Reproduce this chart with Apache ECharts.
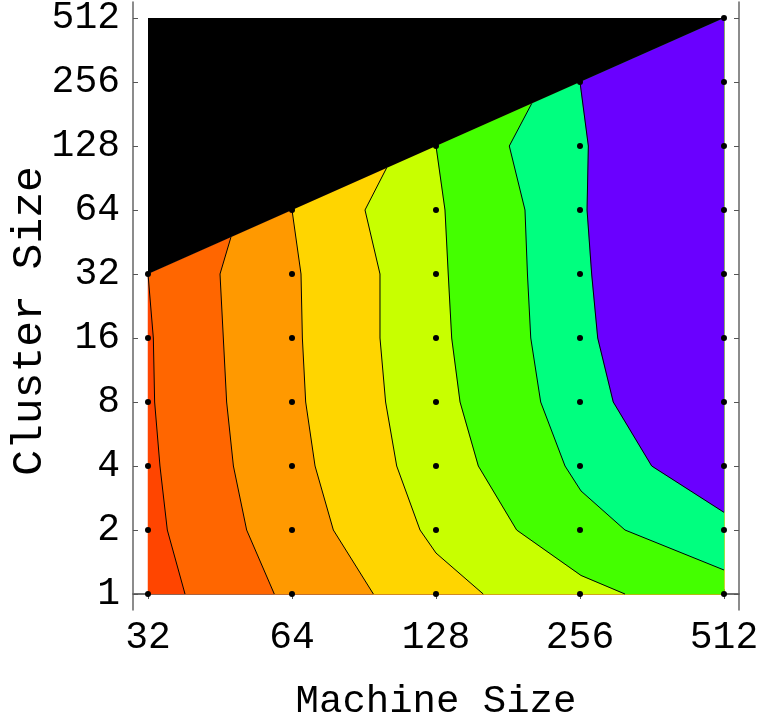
<!DOCTYPE html>
<html>
<head>
<meta charset="utf-8">
<script src="https://cdn.jsdelivr.net/npm/echarts@6/dist/echarts.min.js"></script>
<style>
html,body{margin:0;padding:0;background:#fff;}
#chart{width:758px;height:721px;}
</style>
</head>
<body>
<div id="chart"></div>
<script>
// Tick values (sizes)
const machineSizes = [32, 64, 128, 256, 512];
const clusterSizes = [1, 2, 4, 8, 16, 32, 64, 128, 256, 512];

// Contour boundary lines, as [log2(machine size), log2(cluster size)]
const contour1 = [[5.257,0],[5.134,1],[5.083,2],[5.046,3],[5.037,4],[5.0,5]];
const contour2 = [[5.877,0],[5.685,1],[5.593,2],[5.546,3],[5.523,4],[5.5,5],[5.576,5.576]];
const contour3 = [[6.565,0],[6.287,1],[6.16,2],[6.095,3],[6.072,4],[6.0625,5],[6,6]];
const contour4 = [[7.328,0],[7.0,0.64],[6.889,1],[6.727,2],[6.65,3],[6.611,4],[6.611,5],[6.507,6],[6.657,6.657]];
const contour5 = [[8.3125,0],[8.007,0.29],[7.56,1],[7.294,2],[7.167,3],[7.109,4],[7.085,5],[7.0625,6],[7.0,7]];
const contour6 = [[9,0.375],[8.3125,1],[8.007,1.61],[7.896,2],[7.727,3],[7.658,4],[7.635,5],[7.618,6],[7.509,7],[7.665,7.665]];
const contour7 = [[9,1.276],[8.498,2],[8.231,3],[8.123,4],[8.081,5],[8.049,6],[8.058,7],[8,8]];
const contours = [contour1, contour2, contour3, contour4, contour5, contour6, contour7];

// Band colours from lowest to highest level
const bandColors = ['#FF4500','#FF6600','#FF9900','#FFD500','#C8FF00','#44FF00','#00FF7F','#6A00FF'];

const log2 = Math.log2;
const xMinExp = log2(machineSizes[0]), xMaxExp = log2(machineSizes[machineSizes.length-1]);
const yMinExp = log2(clusterSizes[0]), yMaxExp = log2(clusterSizes[clusterSizes.length-1]);

// Valid domain: cluster size <= machine size
const domain = [[xMinExp,yMinExp],[xMaxExp,yMinExp],[xMaxExp,xMaxExp],[xMinExp,xMinExp]];
const invalid = [[xMinExp,xMinExp],[xMinExp,yMaxExp],[xMaxExp,yMaxExp]];

function bandPolygon(i){
  if(i===0) return domain;
  const b = contours[i-1];
  const pts = b.slice();
  pts.push([xMaxExp, xMaxExp]);
  if(b[0][1] === yMinExp) pts.push([xMaxExp, yMinExp]);
  return pts;
}

const gridPoints = [];
machineSizes.forEach(m => clusterSizes.forEach(c => { if(c <= m) gridPoints.push([log2(m), log2(c)]); }));

const FONT = "'Liberation Mono','Courier New',monospace";
const xTicks = machineSizes.map(log2);
const yTicks = clusterSizes.map(log2);
const frameLine = {show:true, lineStyle:{color:'#666', width:1.5}};
const tickStyle = (vals)=>({show:true, inside:true, length:5, customValues:vals, lineStyle:{color:'#555', width:1}});

const chart = echarts.init(document.getElementById('chart'), null, {renderer:'canvas'});
chart.setOption({
  animation:false,
  grid:{left:133, right:19, top:2, bottom:111, containLabel:false, outerBoundsMode:'none'},
  xAxis:[
    {type:'value', position:'bottom', min:xMinExp-0.1042, max:xMaxExp+0.1042,
     axisLine:frameLine, axisTick:tickStyle(xTicks), splitLine:{show:false},
     axisLabel:{customValues:xTicks, formatter:v=>String(Math.round(Math.pow(2,v))), fontFamily:FONT, fontSize:38, color:'#000', margin:9},
     name:'Machine Size', nameLocation:'middle', nameGap:72, nameMoveOverlap:false,
     nameTextStyle:{fontFamily:FONT, fontSize:39, color:'#000'}},
    {type:'value', position:'top', min:xMinExp-0.1042, max:xMaxExp+0.1042,
     axisLine:frameLine, axisTick:tickStyle(xTicks), axisLabel:{show:false}, splitLine:{show:false}}
  ],
  yAxis:[
    {type:'value', position:'left', min:yMinExp-0.25, max:yMaxExp+0.25,
     axisLine:frameLine, axisTick:tickStyle(yTicks), splitLine:{show:false},
     axisLabel:{customValues:yTicks, formatter:v=>String(Math.round(Math.pow(2,v))), fontFamily:FONT, fontSize:38, color:'#000', margin:13},
     name:'Cluster Size', nameLocation:'middle', nameGap:82, nameMoveOverlap:false,
     nameTextStyle:{fontFamily:FONT, fontSize:43, color:'#000', padding:[0,30,0,0]}},
    {type:'value', position:'right', min:yMinExp-0.25, max:yMaxExp+0.25,
     axisLine:frameLine, axisTick:tickStyle(yTicks), axisLabel:{show:false}, splitLine:{show:false}}
  ],
  series:[
    {type:'custom', name:'bands', xAxisIndex:0, yAxisIndex:0, z:1, silent:true,
     data: bandColors.map((c,i)=>[i, 0]),
     encode:{x:-1, y:-1},
     renderItem:(params, api)=>{
       const i = params.dataIndex;
       const pts = bandPolygon(i).map(p=>api.coord(p));
       return {type:'polygon', shape:{points:pts}, style:{fill:bandColors[i], stroke:bandColors[i], lineWidth:0.5}};
     }},
    ...contours.map((c,k)=>({type:'line', xAxisIndex:0, yAxisIndex:0, z:2, silent:true, data:c,
      symbol:'none', lineStyle:{color:'#000', width:1}})),
    {type:'custom', name:'invalid', xAxisIndex:0, yAxisIndex:0, z:3, silent:true,
     data:[[0,0]], encode:{x:-1, y:-1},
     renderItem:(params, api)=>({type:'polygon', shape:{points:invalid.map(p=>api.coord(p))}, style:{fill:'#000'}})},
    {type:'scatter', xAxisIndex:0, yAxisIndex:0, z:4, silent:true, data:gridPoints,
     symbol:'circle', symbolSize:6, itemStyle:{color:'#000', opacity:1}}
  ]
});
</script>
</body>
</html>
